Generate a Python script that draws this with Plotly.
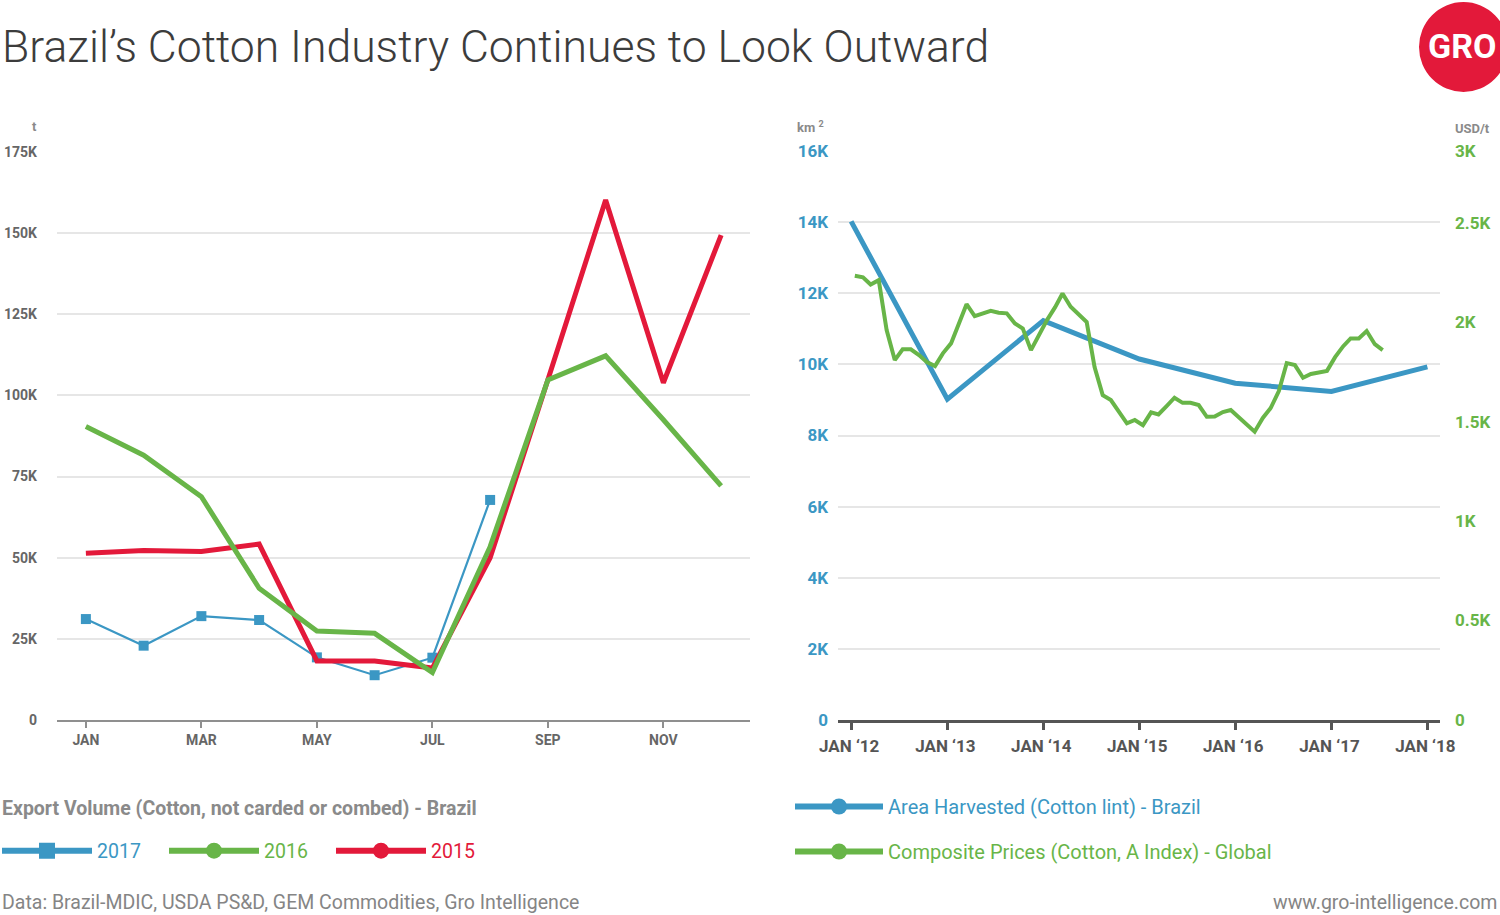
import plotly.graph_objects as go
import pandas as pd

# ---------------- data ----------------
months = ["JAN", "FEB", "MAR", "APR", "MAY", "JUN", "JUL", "AUG", "SEP", "OCT", "NOV", "DEC"]
month_ticks = ["JAN", "MAR", "MAY", "JUL", "SEP", "NOV"]

exports_2017 = [31100, 22900, 32000, 30800, 19300, 13800, 19200, 67800]
exports_2016 = [90400, 81600, 68800, 40600, 27400, 26700, 14600, 53400, 104800, 112200, 92500, 72100]
exports_2015 = [51400, 52200, 51900, 54200, 18200, 18200, 16000, 50000, 104800, 160200, 103900, 149400]

left_y_ticks = [0, 25000, 50000, 75000, 100000, 125000, 150000, 175000]
left_y_labels = ["0", "25K", "50K", "75K", "100K", "125K", "150K", "175K"]

area_years = ["2012-01-01", "2013-01-01", "2014-01-01", "2015-01-01",
              "2016-01-01", "2017-01-01", "2018-01-01"]
area_harvested = [14020, 9020, 11230, 10150, 9470, 9240, 9930]

price_start = "2012-01-01"
price_values = [
    2233, 2225, 2189, 2211, 1960, 1809, 1863, 1863, 1834, 1799, 1779, 1843,
    1893, 1990, 2090, 2030, 2045, 2057, 2047, 2044, 1993, 1968, 1859, 1935,
    2010, 2075, 2144, 2077, 2040, 2000, 1774, 1633, 1608, 1548, 1491, 1508,
    1482, 1546, 1536, 1578, 1620, 1594, 1594, 1583, 1524, 1525, 1548, 1558,
    1523, 1487, 1449, 1518, 1568, 1653, 1794, 1784, 1720, 1739, 1749, 1755,
    1824, 1879, 1918, 1918, 1955, 1889, 1859,
]

year_ticks = ["2012-01-01", "2013-01-01", "2014-01-01", "2015-01-01",
              "2016-01-01", "2017-01-01", "2018-01-01"]
year_labels = ["JAN \u201812", "JAN \u201813", "JAN \u201814", "JAN \u201815",
               "JAN \u201816", "JAN \u201817", "JAN \u201818"]
area_ticks = [0, 2000, 4000, 6000, 8000, 10000, 12000, 14000, 16000]
area_labels = ["0", "2K", "4K", "6K", "8K", "10K", "12K", "14K", "16K"]
price_ticks = [0, 500, 1000, 1500, 2000, 2500, 2860]
price_labels = ["0", "0.5K", "1K", "1.5K", "2K", "2.5K", "3K"]

# monthly observation dates (mid-month)
price_dates = [d.strftime("%Y-%m-%d") for d in
               pd.date_range(price_start, periods=len(price_values), freq="MS") + pd.Timedelta(days=14)]

# ---------------- style ----------------
BLUE = "#3b97c4"
GREEN = "#68b548"
RED = "#e3193a"
GRID = "#e6e6e6"
FONT = "Roboto"
W, H = 1500, 915


def fx(p):
    return p / W


def fy(p):
    return 1 - p / H


fig = go.Figure()

# left chart traces (drawn order: 2017, 2015, 2016)
fig.add_trace(go.Scatter(x=months[:len(exports_2017)], y=exports_2017, mode="lines+markers",
                         line=dict(color=BLUE, width=2.2), marker=dict(symbol="square", size=10, color=BLUE),
                         showlegend=False, xaxis="x", yaxis="y", hoverinfo="skip"))
fig.add_trace(go.Scatter(x=months, y=exports_2015, mode="lines",
                         line=dict(color=RED, width=5), showlegend=False,
                         xaxis="x", yaxis="y", hoverinfo="skip"))
fig.add_trace(go.Scatter(x=months, y=exports_2016, mode="lines",
                         line=dict(color=GREEN, width=5), showlegend=False,
                         xaxis="x", yaxis="y", hoverinfo="skip"))

# legend entries for left chart
for nm, col, sym in [("2017", BLUE, "square"), ("2016", GREEN, "circle"), ("2015", RED, "circle")]:
    fig.add_trace(go.Scatter(x=[None], y=[None], mode="lines+markers",
                             name=f"<span style='color:{col}'>{nm}</span>",
                             line=dict(color=col, width=6), marker=dict(symbol=sym, size=18, color=col),
                             xaxis="x", yaxis="y", legend="legend"))

# right chart traces
fig.add_trace(go.Scatter(x=price_dates, y=price_values, mode="lines",
                         line=dict(color=GREEN, width=4), showlegend=False,
                         xaxis="x2", yaxis="y3", hoverinfo="skip"))
fig.add_trace(go.Scatter(x=area_years, y=area_harvested, mode="lines",
                         line=dict(color=BLUE, width=5), showlegend=False,
                         xaxis="x2", yaxis="y2", hoverinfo="skip"))

for i, (nm, col) in enumerate([("Area Harvested (Cotton lint) - Brazil", BLUE),
                               ("Composite Prices (Cotton, A Index) - Global", GREEN)]):
    fig.add_trace(go.Scatter(x=[None], y=[None], mode="lines+markers",
                             name=f"<span style='color:{col}'>{nm}</span>", legendgroup=f"g{i}",
                             line=dict(color=col, width=6), marker=dict(symbol="circle", size=18, color=col),
                             xaxis="x2", yaxis="y2", legend="legend2"))

tick_font_l = dict(family=FONT, size=14, color="#666666", weight="bold")

fig.update_layout(
    width=W, height=H,
    margin=dict(l=0, r=0, t=0, b=0, autoexpand=False),
    paper_bgcolor="white", plot_bgcolor="white",
    font=dict(family=FONT),
    xaxis=dict(domain=[fx(57), fx(750)], anchor="y", type="category", categoryorder="array",
               categoryarray=months, range=[-0.5, 11.5], tickmode="array", tickvals=month_ticks,
               ticktext=month_ticks, showgrid=False, showline=True, linecolor="#8f8f8f", linewidth=2,
               ticks="outside", ticklen=6, tickwidth=1.5, tickcolor="#8f8f8f",
               tickfont=tick_font_l, zeroline=False, automargin=False),
    yaxis=dict(domain=[fy(720), fy(152)], anchor="x", range=[0, 175000], tickmode="array",
               tickvals=left_y_ticks, ticktext=left_y_labels, showgrid=True, gridcolor=GRID, gridwidth=1.5,
               zeroline=False, showline=False, tickfont=tick_font_l, ticklabelstandoff=19, automargin=False),
    xaxis2=dict(domain=[fx(838), fx(1440)], anchor="y2", type="date",
                range=["2011-11-12", "2018-02-18"], tickmode="array", tickvals=year_ticks,
                ticktext=year_labels, showgrid=False, showline=True, linecolor="#555555", linewidth=3,
                ticks="outside", ticklen=7, tickwidth=2.5, tickcolor="#555555",
                tickfont=dict(family=FONT, size=17, color="#555555", weight="bold"),
                ticklabelshift=-2, ticklabelstandoff=2, zeroline=False, automargin=False),
    yaxis2=dict(domain=[fy(720), fy(151)], anchor="x2", range=[0, 16000], tickmode="array",
                tickvals=area_ticks, ticktext=area_labels, showgrid=True, gridcolor=GRID, gridwidth=1.5,
                zeroline=False, showline=False,
                tickfont=dict(family=FONT, size=17, color=BLUE, weight="bold"), ticklabelstandoff=9,
                automargin=False),
    yaxis3=dict(overlaying="y2", anchor="x2", side="right", range=[0, 2860], tickmode="array",
                tickvals=price_ticks, ticktext=price_labels, showgrid=False, zeroline=False, showline=False,
                tickfont=dict(family=FONT, size=17, color=GREEN, weight="bold"), ticklabelstandoff=14,
                automargin=False),
    legend=dict(x=fx(-3), xanchor="left", y=fy(851), yanchor="middle", orientation="h",
                font=dict(family=FONT, size=19.5), itemwidth=90, entrywidth=62,
                bgcolor="rgba(0,0,0,0)", itemclick=False, itemdoubleclick=False),
    legend2=dict(x=fx(790), xanchor="left", y=fy(787), yanchor="top", orientation="v",
                 font=dict(family=FONT, size=20), itemwidth=88, bgcolor="rgba(0,0,0,0)",
                 itemclick=False, itemdoubleclick=False, tracegroupgap=16),
    showlegend=True,
)

annotations = [
    dict(text="Brazil\u2019s Cotton Industry Continues to Look Outward", x=0, y=fy(47), xref="paper",
         yref="paper", xanchor="left", yanchor="middle", showarrow=False,
         font=dict(family=FONT, size=44.5, color="#3c3c3c", weight=300)),
    dict(text="Export Volume (Cotton, not carded or combed) - Brazil", x=0, y=fy(808), xref="paper",
         yref="paper", xanchor="left", yanchor="middle", showarrow=False,
         font=dict(family=FONT, size=19.5, color="#8a8a8a", weight="bold")),
    dict(text="t", x=fx(39), y=fy(127), xref="paper", yref="paper", xanchor="right", yanchor="middle",
         showarrow=False, font=dict(family=FONT, size=13, color="#8a8a8a", weight="bold")),
    dict(text="km <sup>2</sup>", x=fx(795), y=fy(127), xref="paper", yref="paper", xanchor="left",
         yanchor="middle", showarrow=False, font=dict(family=FONT, size=13, color="#8a8a8a", weight="bold")),
    dict(text="USD/t", x=fx(1453), y=fy(128), xref="paper", yref="paper", xanchor="left", yanchor="middle",
         showarrow=False, font=dict(family=FONT, size=13, color="#8a8a8a", weight="bold")),
    dict(text="Data: Brazil-MDIC, USDA PS&D, GEM Commodities, Gro Intelligence", x=0, y=fy(902),
         xref="paper", yref="paper", xanchor="left", yanchor="middle", showarrow=False,
         font=dict(family=FONT, size=19.5, color="#858585")),
    dict(text="www.gro-intelligence.com", x=fx(1499), y=fy(902), xref="paper", yref="paper",
         xanchor="right", yanchor="middle", showarrow=False, font=dict(family=FONT, size=19.5, color="#858585")),
    dict(text="<b>GRO</b>", x=fx(1462), y=fy(46), xref="paper", yref="paper", xanchor="center",
         yanchor="middle", showarrow=False, font=dict(family=FONT, size=34, color="white")),
]
fig.update_layout(annotations=annotations)

fig.add_shape(type="circle", xref="paper", yref="paper", x0=fx(1419), x1=fx(1508), y0=fy(92), y1=fy(2),
              fillcolor=RED, line=dict(width=0), layer="below")

fig.write_html("out.html", config={"displayModeBar": False},
               post_script="document.body.style.margin='0px';document.body.style.overflow='hidden';")
